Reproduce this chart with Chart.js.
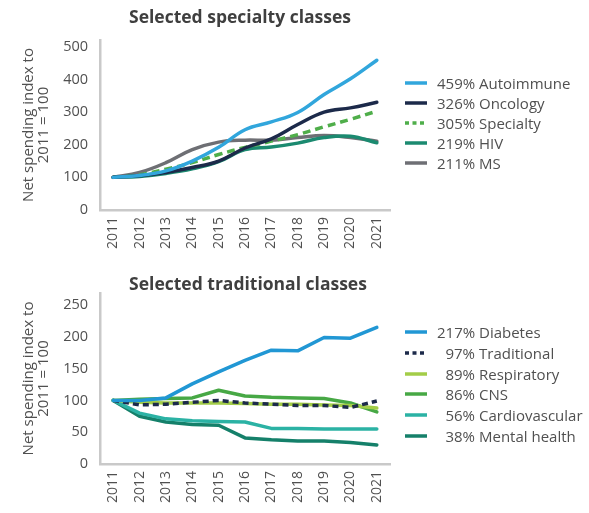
<!DOCTYPE html>
<html>
<head>
<meta charset="utf-8">
<script src="https://cdn.jsdelivr.net/npm/chart.js@4/dist/chart.umd.min.js"></script>
<style>
  body { margin: 0; background: #fff; }
  #wrap { position: relative; width: 589px; height: 513px; overflow: hidden; font-family: 'Open Sans', sans-serif; }
  #wrap canvas { position: absolute; left: 0; }
  .legend { position: absolute; left: 405px; width: 184px; font-size: 15px; color: #505050; }
  .item { position: absolute; left: 0; height: 20px; display: flex; align-items: center; white-space: nowrap; }
  .item svg { width: 22px; height: 6px; flex: none; }
  .pct { display: inline-block; width: 38px; text-align: right; margin-left: 10px; }
  .nm { margin-left: 4px; }
</style>
</head>
<body>
<div id="wrap">
  <canvas id="c1" width="589" height="257" style="top:0"></canvas>
  <canvas id="c2" width="589" height="256" style="top:257px"></canvas>
  <div class="legend" id="leg1" style="top:0"></div>
  <div class="legend" id="leg2" style="top:0"></div>
</div>
<script>
// ---------- data ----------
const years = ['2011','2012','2013','2014','2015','2016','2017','2018','2019','2020','2021'];

const titleSpecialty = 'Selected specialty classes';
const titleTraditional = 'Selected traditional classes';
const yAxisTitle = ['Net spending index to', '2011 = 100'];

const specialtyNames = ['Autoimmune', 'Oncology', 'Specialty', 'HIV', 'MS'];
const specialtyPct = ['459%', '326%', '305%', '219%', '211%'];
const autoimmune = [100, 106, 120, 150, 192, 246, 270, 299, 354, 402, 459];
const oncology   = [100, 105, 115, 130, 150, 190, 218, 262, 300, 313, 330];
const specialty  = [100, 108, 125, 145, 170, 192, 211, 231, 255, 278, 303];
const hiv        = [100, 103, 112, 126, 148, 185, 193, 205, 222, 226, 206];
const ms         = [100, 115, 145, 185, 208, 214, 214, 222, 228, 222, 211];
const yTicksSpecialty = [0, 100, 200, 300, 400, 500];

const traditionalNames = ['Diabetes', 'Traditional', 'Respiratory', 'CNS', 'Cardiovascular', 'Mental health'];
const traditionalPct = ['217%', '97%', '89%', '86%', '56%', '38%'];
const diabetes       = [100, 100, 104, 126, 145, 163, 179, 178, 199, 198, 215];
const traditional    = [100, 93, 94, 97, 100, 96, 94, 92, 92, 89, 99];
const respiratory    = [100, 97, 96, 96, 96, 95, 94, 94, 93, 92, 88];
const cns            = [100, 102, 103, 104, 116, 107, 105, 104, 103, 96, 82];
const cardiovascular = [100, 80, 71, 68, 67, 66, 56, 56, 55, 55, 55];
const mentalHealth   = [100, 75, 66, 62, 61, 41, 38, 36, 36, 34, 30];
const yTicksTraditional = [0, 50, 100, 150, 200, 250];

// ---------- styles ----------
const specialtyColors = ['#31a6dc', '#1c2a4a', '#4fae4a', '#1b8a70', '#6e6f74'];
const specialtyDash = [[], [], [8, 5], [], []];
const traditionalColors = ['#2197d4', '#1c2a4a', '#a3cd48', '#47a845', '#2bb2a4', '#15806a'];
const traditionalDash = [[], [6, 4], [], [], [], []];

Chart.defaults.font.family = "'Open Sans', sans-serif";
Chart.defaults.color = '#555';

const panelTitle = {
  id: 'panelTitle',
  afterDraw(chart, args, opts) {
    const ctx = chart.ctx;
    ctx.save();
    ctx.font = "bold 17.5px 'Open Sans', sans-serif";
    ctx.fillStyle = '#3f3f3f';
    ctx.textAlign = 'center';
    ctx.textBaseline = 'middle';
    ctx.fillText(opts.text, opts.x, opts.y);
    ctx.restore();
  }
};

function makeChart(id, series, colors, dashes, yTicks, yMax, tension, title, titleX, titleY, padTop, padBottom) {
  const datasets = series.map((d, i) => ({
    label: d.name,
    data: d.values,
    borderColor: colors[i],
    backgroundColor: colors[i],
    borderWidth: 3.5,
    borderDash: dashes[i],
    borderCapStyle: dashes[i].length ? 'butt' : 'round',
    borderJoinStyle: 'round',
    pointRadius: 0,
    tension: tension,
    fill: false
  }));
  return new Chart(document.getElementById(id), {
    type: 'line',
    data: { labels: years, datasets },
    plugins: [panelTitle],
    options: {
      responsive: false,
      animation: false,
      devicePixelRatio: 1,
      layout: { padding: { left: 10, right: 199, top: padTop, bottom: padBottom } },
      plugins: {
        legend: { display: false },
        tooltip: { enabled: false },
        panelTitle: { text: title, x: titleX, y: titleY }
      },
      scales: {
        x: {
          offset: true,
          grid: { display: false, drawTicks: false },
          border: { display: true, color: '#c9c9c9', width: 2.5 },
          ticks: { minRotation: 90, maxRotation: 90, padding: 7, color: '#505050', font: { size: 14 } },
          afterFit(scale) { scale.height = 40; }
        },
        y: {
          min: 0,
          max: yMax,
          grid: { display: false, drawTicks: false },
          border: { display: true, color: '#c9c9c9', width: 2.5 },
          ticks: { padding: 12, color: '#505050', font: { size: 14.5 } },
          afterBuildTicks(scale) { scale.ticks = yTicks.map(v => ({ value: v })); },
          afterFit(scale) { scale.width = 90; },
          title: {
            display: true,
            text: yAxisTitle,
            color: '#505050',
            font: { size: 15, lineHeight: 1.0 },
            padding: { top: 11, bottom: 0 }
          }
        }
      }
    }
  });
}

makeChart('c1',
  [
    { name: specialtyNames[0], values: autoimmune },
    { name: specialtyNames[1], values: oncology },
    { name: specialtyNames[2], values: specialty },
    { name: specialtyNames[3], values: hiv },
    { name: specialtyNames[4], values: ms }
  ],
  specialtyColors, specialtyDash, yTicksSpecialty, 521, 0.4,
  titleSpecialty, 240, 18, 40, 7);

makeChart('c2',
  [
    { name: traditionalNames[0], values: diabetes },
    { name: traditionalNames[1], values: traditional },
    { name: traditionalNames[2], values: respiratory },
    { name: traditionalNames[3], values: cns },
    { name: traditionalNames[4], values: cardiovascular },
    { name: traditionalNames[5], values: mentalHealth }
  ],
  traditionalColors, traditionalDash, yTicksTraditional, 269, 0,
  titleTraditional, 248, 28, 36, 9);

function buildLegend(elId, names, pcts, colors, dashes, firstY, step) {
  const el = document.getElementById(elId);
  names.forEach((n, i) => {
    const it = document.createElement('div');
    it.className = 'item';
    it.style.top = (firstY + i * step - 10) + 'px';
    const dash = dashes[i].length ? ' stroke-dasharray="4,3.5"' : '';
    it.innerHTML = '<svg viewBox="0 0 22 6"><line x1="0" y1="3" x2="22" y2="3" stroke="' + colors[i] +
      '" stroke-width="3.5"' + dash + '/></svg><span class="pct">' + pcts[i] + '</span><span class="nm">' + n + '</span>';
    el.appendChild(it);
  });
}
buildLegend('leg1', specialtyNames, specialtyPct, specialtyColors, specialtyDash, 83, 20);
buildLegend('leg2', traditionalNames, traditionalPct, traditionalColors, traditionalDash, 332, 20.8);
</script>
</body>
</html>
